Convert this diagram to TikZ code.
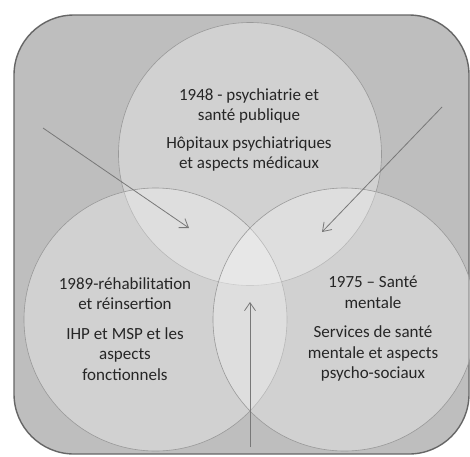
\documentclass[tikz,border=0pt]{standalone}
\usepackage{fontspec}
\setmainfont{Carlito}
\usetikzlibrary{positioning,arrows.meta}
\definecolor{panelbg}{gray}{0.745}
\definecolor{panelln}{gray}{0.40}
\definecolor{ringln}{gray}{0.60}
\definecolor{arrgray}{gray}{0.47}
\definecolor{txtgray}{gray}{0.15}
\tikzset{
  panel/.style={draw=panelln,fill=panelbg,line width=1.4pt,rounded corners=60pt},
  era/.style={circle,draw=ringln,line width=0.6pt,fill=white,fill opacity=0.30,
    draw opacity=1,minimum size=263pt,inner sep=0pt},
  eratxt/.style={align=center,text=txtgray,font=\fontsize{17}{20.5}\selectfont},
  push/.style={-{Straight Barb[length=8pt,width=11pt,line width=0.8pt]},draw=arrgray,line width=0.8pt},
}
\begin{document}
\begin{tikzpicture}[x=1pt,y=-1pt]
  \useasboundingbox (0,0) rectangle (470,456);
  % frame
  \draw[panel] (14,15) rectangle (469,454);
  % three periods
  \node[era] (c48) at (250,154) {};
  \node[era] (c89) at (155.5,319.5) {};
  \node[era] (c75) at (344.5,319.5) {};
  % texts
  \node[eratxt] (t48) at (249,130) {1948 - psychiatrie et\\santé publique\\[7pt]Hôpitaux psychiatriques\\et aspects médicaux};
  \node[eratxt] (t89) at (125,329) {1989-réhabilitation\\et réinsertion\\[9pt]IHP et MSP et les\\aspects\\fonctionnels};
  \node[eratxt] (t75) at (373,329) {1975 -- Santé\\mentale\\[9pt]Services de santé\\mentale et aspects\\psycho-sociaux};
  % arrows towards the centre
  \coordinate (a1s) at (43,128);  \coordinate (a1e) at (189,228);
  \coordinate (a2s) at (442,107); \coordinate (a2e) at (322,232);
  \coordinate (a3s) at (250,447); \coordinate (a3e) at (250,302);
  \draw[push] (a1s) -- (a1e);
  \draw[push] (a2s) -- (a2e);
  \draw[push] (a3s) -- (a3e);
\end{tikzpicture}
\end{document}
